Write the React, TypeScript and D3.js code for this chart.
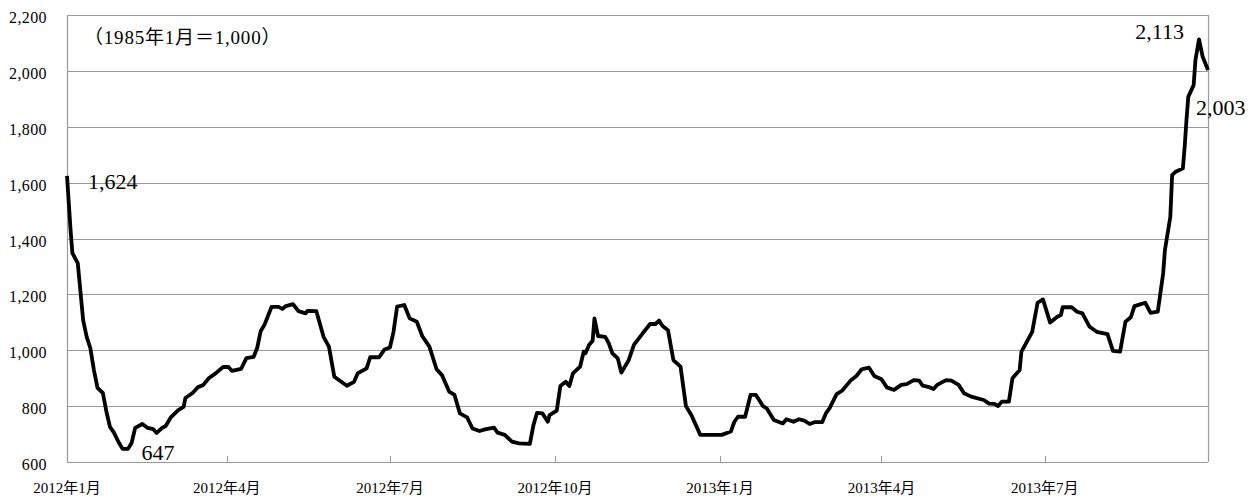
import * as d3 from "d3";
import { useEffect, useRef } from "react";

// Baltic Dry Index, Jan 2012 - Sep 2013
const dates2012 = [
  "2012-01-03", "2012-01-05", "2012-01-06", "2012-01-09", "2012-01-12", "2012-01-14",
  "2012-01-16", "2012-01-18", "2012-01-20", "2012-01-23", "2012-01-25", "2012-01-27",
  "2012-01-29", "2012-02-01", "2012-02-03", "2012-02-06", "2012-02-08", "2012-02-10",
  "2012-02-14", "2012-02-17", "2012-02-20", "2012-02-22", "2012-02-25", "2012-02-27",
  "2012-03-01", "2012-03-05", "2012-03-08", "2012-03-09", "2012-03-13", "2012-03-16",
  "2012-03-19", "2012-03-22", "2012-03-26", "2012-03-30", "2012-04-02", "2012-04-04",
  "2012-04-09", "2012-04-12", "2012-04-16", "2012-04-18", "2012-04-20", "2012-04-22",
  "2012-04-26", "2012-04-30", "2012-05-02", "2012-05-04", "2012-05-08", "2012-05-11",
  "2012-05-15", "2012-05-16", "2012-05-21", "2012-05-25", "2012-05-28", "2012-05-31",
  "2012-06-07", "2012-06-11", "2012-06-13", "2012-06-18", "2012-06-20", "2012-06-25",
  "2012-06-28", "2012-07-01", "2012-07-03", "2012-07-05", "2012-07-09", "2012-07-12",
  "2012-07-16", "2012-07-19", "2012-07-23", "2012-07-27", "2012-07-30", "2012-08-03",
  "2012-08-06", "2012-08-09", "2012-08-13", "2012-08-16", "2012-08-20", "2012-08-23",
  "2012-08-28", "2012-08-30", "2012-09-03", "2012-09-07", "2012-09-11", "2012-09-17",
  "2012-09-19", "2012-09-21", "2012-09-24", "2012-09-27", "2012-09-28", "2012-10-02",
  "2012-10-04", "2012-10-07", "2012-10-09", "2012-10-11", "2012-10-15", "2012-10-17",
  "2012-10-18", "2012-10-20", "2012-10-22", "2012-10-23", "2012-10-25", "2012-10-29",
  "2012-10-31", "2012-11-02", "2012-11-05", "2012-11-07", "2012-11-11", "2012-11-14",
  "2012-11-19", "2012-11-23", "2012-11-26", "2012-11-28", "2012-11-30", "2012-12-03",
  "2012-12-06", "2012-12-10", "2012-12-13", "2012-12-16", "2012-12-21",
];
const values2012 = [
  1624, 1430, 1348, 1312, 1108, 1047,
  1008, 929, 865, 847, 779, 725,
  707, 668, 647, 647, 668, 722,
  736, 722, 718, 704, 722, 729,
  761, 786, 797, 829, 847, 868,
  876, 900, 918, 940, 940, 926,
  933, 972, 976, 1008, 1069, 1090,
  1155, 1155, 1148, 1158, 1165, 1140,
  1132, 1141, 1140, 1048, 1013, 905,
  873, 887, 917, 935, 975, 975,
  1003, 1010, 1066, 1156, 1162, 1114,
  1102, 1051, 1013, 932, 911, 852,
  840, 774, 760, 720, 711, 717,
  723, 705, 697, 673, 667, 665,
  732, 776, 774, 744, 768, 784,
  872, 887, 872, 917, 941, 995,
  989, 1019, 1034, 1114, 1051, 1048,
  1025, 989, 971, 920, 963, 1019,
  1061, 1094, 1094, 1106, 1087, 1072,
  965, 941, 800, 768, 697,
];

const dates2013 = [
  "2013-01-02", "2013-01-07", "2013-01-09", "2013-01-11", "2013-01-15", "2013-01-18",
  "2013-01-21", "2013-01-25", "2013-01-27", "2013-01-31", "2013-02-05", "2013-02-07",
  "2013-02-11", "2013-02-14", "2013-02-17", "2013-02-20", "2013-02-23", "2013-02-27",
  "2013-03-01", "2013-03-03", "2013-03-07", "2013-03-10", "2013-03-15", "2013-03-18",
  "2013-03-21", "2013-03-25", "2013-03-28", "2013-04-01", "2013-04-04", "2013-04-08",
  "2013-04-12", "2013-04-15", "2013-04-19", "2013-04-22", "2013-04-24", "2013-04-27",
  "2013-04-30", "2013-05-02", "2013-05-07", "2013-05-10", "2013-05-14", "2013-05-17",
  "2013-05-21", "2013-05-28", "2013-05-31", "2013-06-03", "2013-06-05", "2013-06-07",
  "2013-06-11", "2013-06-13", "2013-06-17", "2013-06-18", "2013-06-21", "2013-06-24",
  "2013-06-27", "2013-06-30", "2013-07-04", "2013-07-08", "2013-07-10", "2013-07-11",
  "2013-07-16", "2013-07-19", "2013-07-22", "2013-07-26", "2013-07-30", "2013-08-05",
  "2013-08-08", "2013-08-12", "2013-08-15", "2013-08-18", "2013-08-20", "2013-08-26",
  "2013-08-29", "2013-09-02", "2013-09-05", "2013-09-06", "2013-09-09", "2013-09-10",
  "2013-09-12", "2013-09-16", "2013-09-17", "2013-09-18", "2013-09-19", "2013-09-22",
  "2013-09-23", "2013-09-25", "2013-09-27", "2013-09-30",
];
const values2013 = [
  697, 709, 744, 762, 762, 840,
  840, 800, 792, 750, 738, 753,
  744, 753, 748, 736, 743, 743,
  774, 792, 843, 855, 893, 908,
  932, 938, 908, 896, 867, 858,
  876, 879, 893, 891, 873, 869,
  861, 876, 893, 891, 876, 846,
  834, 822, 809, 808, 800, 816,
  816, 900, 929, 995, 1030, 1066,
  1170, 1182, 1099, 1120, 1126, 1154,
  1154, 1138, 1132, 1084, 1066, 1058,
  998, 995, 1102, 1118, 1158, 1170,
  1134, 1138, 1275, 1359, 1478, 1627,
  1639, 1651, 1729, 1824, 1907, 1949,
  2039, 2113, 2051, 2003,
];

const yTicks = [600, 800, 1000, 1200, 1400, 1600, 1800, 2000, 2200];
const monthTicks = [
  "2012-01-01", "2012-04-01", "2012-07-01", "2012-10-01",
  "2013-01-01", "2013-04-01", "2013-07-01",
];
const monthLabels = [
  "2012年1月", "2012年4月", "2012年7月", "2012年10月",
  "2013年1月", "2013年4月", "2013年7月",
];
const baseNote = "（1985年1月＝1,000）";
// labelled points: date, offset of label from point
const callouts = [
  { date: "2012-01-03", dx: 21, dy: 13, anchor: "start" },
  { date: "2012-02-03", dx: 19, dy: 11, anchor: "start" },
  { date: "2013-09-25", dx: -15, dy: 0, anchor: "end" },
  { date: "2013-09-30", dx: -12, dy: 45, anchor: "start" },
];

const FONT = '"Liberation Serif", "Noto Sans CJK JP", serif';

export default function App() {
  const svgRef = useRef<SVGSVGElement>(null);

  useEffect(() => {
    if (!svgRef.current) return;
    const svg = d3.select(svgRef.current);
    svg.selectAll("*").remove();

    const parse = d3.timeParse("%Y-%m-%d");
    const allValues = [...values2012, ...values2013];
    const data = [...dates2012, ...dates2013].map((d, i) => ({
      date: parse(d) as Date,
      value: allValues[i],
    }));

    const margin = { top: 15, right: 52, bottom: 35, left: 67 };
    const width = 1260;
    const height = 497;

    const x = d3
      .scaleTime()
      .domain([data[0].date, data[data.length - 1].date])
      .range([margin.left, width - margin.right])
      .clamp(true);
    const y = d3
      .scaleLinear()
      .domain([600, 2200])
      .range([height - margin.bottom, margin.top]);

    const grid = "#9a9a9a";

    // horizontal gridlines
    svg
      .append("g")
      .selectAll("line")
      .data(yTicks)
      .enter()
      .append("line")
      .attr("x1", margin.left)
      .attr("x2", width - margin.right)
      .attr("y1", (d) => Math.round(y(d)) + 0.5)
      .attr("y2", (d) => Math.round(y(d)) + 0.5)
      .attr("stroke", grid)
      .attr("stroke-width", 1.2);

    // left / right frame
    [margin.left, width - margin.right].forEach((xx) => {
      svg
        .append("line")
        .attr("x1", xx + 0.5)
        .attr("x2", xx + 0.5)
        .attr("y1", y(2200))
        .attr("y2", y(600))
        .attr("stroke", grid)
        .attr("stroke-width", 1.2);
    });

    // y labels
    svg
      .append("g")
      .selectAll("text")
      .data(yTicks)
      .enter()
      .append("text")
      .attr("x", 47)
      .attr("y", (d) => y(d) + 8)
      .attr("text-anchor", "end")
      .style("font-family", FONT)
      .style("font-size", "16px")
      .style("letter-spacing", "0.4px")
      .text((d) => d3.format(",")(d));

    // month ticks (small, pointing inward) and labels
    const months = monthTicks.map((d) => parse(d) as Date);
    svg
      .append("g")
      .selectAll("line")
      .data(months)
      .enter()
      .append("line")
      .attr("x1", (d) => Math.round(x(d)) + 0.5)
      .attr("x2", (d) => Math.round(x(d)) + 0.5)
      .attr("y1", y(600))
      .attr("y2", y(600) - 6)
      .attr("stroke", grid)
      .attr("stroke-width", 1);

    svg
      .append("g")
      .selectAll("text")
      .data(months)
      .enter()
      .append("text")
      .attr("x", (d) => x(d))
      .attr("y", 493)
      .attr("text-anchor", "middle")
      .style("font-family", FONT)
      .style("font-size", "15px")
      .text((_, i) => monthLabels[i]);

    // the series
    const line = d3
      .line<(typeof data)[0]>()
      .x((d) => x(d.date))
      .y((d) => y(d.value));

    svg
      .append("path")
      .datum(data)
      .attr("fill", "none")
      .attr("stroke", "#000")
      .attr("stroke-width", 3.8)
      .attr("stroke-linejoin", "round")
      .attr("d", line);

    // base note
    svg
      .append("text")
      .attr("x", 84)
      .attr("y", 44)
      .style("font-family", FONT)
      .style("font-size", "19px")
      .style("letter-spacing", "0.8px")
      .text(baseNote);

    // value callouts
    callouts.forEach((c) => {
      const p = data.find((d) => +d.date === +(parse(c.date) as Date));
      if (!p) return;
      svg
        .append("text")
        .attr("x", x(p.date) + c.dx)
        .attr("y", y(p.value) + c.dy)
        .attr("text-anchor", c.anchor)
        .style("font-family", FONT)
        .style("font-size", "22px")
        .text(d3.format(",")(p.value));
    });
  }, []);

  return (
    <svg
      ref={svgRef}
      width="1260"
      height="497"
      style={{ position: "absolute", left: 0, top: 0, background: "#fff" }}
    />
  );
}
